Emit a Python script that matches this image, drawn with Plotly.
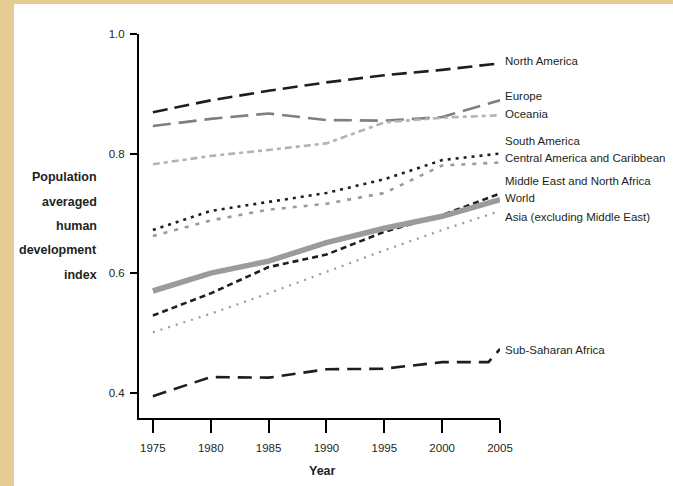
import plotly.graph_objects as go

years = [1975, 1980, 1985, 1990, 1995, 2000, 2005]
north_america = [0.869, 0.889, 0.905, 0.919, 0.931, 0.940, 0.951]
europe = [0.846, 0.858, 0.867, 0.856, 0.855, 0.861, 0.889]
oceania = [0.782, 0.796, 0.806, 0.817, 0.852, 0.860, 0.864]
south_america = [0.672, 0.704, 0.719, 0.734, 0.757, 0.789, 0.800]
central_america = [0.662, 0.688, 0.706, 0.716, 0.734, 0.780, 0.785]
mena = [0.529, 0.566, 0.610, 0.631, 0.669, 0.697, 0.733]
world = [0.570, 0.600, 0.620, 0.651, 0.675, 0.695, 0.723]
asia = [0.501, 0.532, 0.566, 0.602, 0.638, 0.672, 0.704]
ssa_years = [1975, 1980, 1985, 1990, 1995, 2000, 2004, 2005]
ssa = [0.394, 0.426, 0.425, 0.439, 0.440, 0.451, 0.451, 0.473]

x_ticks = [1975, 1980, 1985, 1990, 1995, 2000, 2005]
y_ticks = [0.4, 0.6, 0.8, 1.0]
y_tick_text = ["0.4", "0.6", "0.8", "1.0"]

FONT = "Liberation Sans, Arial, sans-serif"
TXT = "#231f20"

series = [
    ("North America", years, north_america, "#1e1e1e", 2.6, "15px,7px", 0.955),
    ("Europe", years, europe, "#7f7f7f", 2.6, "18px,8px", 0.896),
    ("Oceania", years, oceania, "#b3b3b3", 2.6, "7px,4px,4px,4px", 0.866),
    ("South America", years, south_america, "#1e1e1e", 2.6, "3px,5px", 0.821),
    ("Central America and Caribbean", years, central_america, "#9a9a9a", 2.6, "4px,7px", 0.793),
    ("Middle East and North Africa", years, mena, "#1e1e1e", 2.6, "6px,4px", 0.754),
    ("World", years, world, "#9b9b9b", 5.5, "solid", 0.725),
    ("Asia (excluding Middle East)", years, asia, "#9a9a9a", 2.2, "2px,6px", 0.694),
    ("Sub-Saharan Africa", ssa_years, ssa, "#1e1e1e", 2.6, "14px,8px", 0.471),
]

fig = go.Figure()
for name, xs, ys, color, width, dash, _ in series:
    fig.add_trace(go.Scatter(
        x=xs, y=ys, mode="lines", name=name,
        line=dict(color=color, width=width, dash=dash),
        hoverinfo="skip", showlegend=False,
    ))

annotations = []
for name, xs, ys, color, width, dash, ly in series:
    annotations.append(dict(
        x=2005, y=ly, xref="x", yref="y", text=name, showarrow=False,
        xanchor="left", yanchor="middle", xshift=3,
        font=dict(family=FONT, size=11.5, color=TXT),
    ))

# y-axis title, one line per annotation (right aligned)
title_lines = ["Population", "averaged", "human", "development", "index"]
title_y_px = [177, 201.5, 226, 250.5, 275]
L, T, W, H = 139, 34, 361, 384
for line, py in zip(title_lines, title_y_px):
    annotations.append(dict(
        x=(99 - L) / W, y=(T + H - py) / H, xref="paper", yref="paper",
        text=line, showarrow=False, xanchor="right", yanchor="middle",
        xshift=0, font=dict(family=FONT, size=12.5, color=TXT, weight="bold"),
    ))
annotations.append(dict(
    x=(322 - L) / W, y=(T + H - 471) / H, xref="paper", yref="paper",
    text="Year", showarrow=False, xanchor="center", yanchor="middle",
    font=dict(family=FONT, size=12.5, color=TXT, weight="bold"),
))

# white page area on textured tan background
shapes = [dict(
    type="rect", xref="paper", yref="paper", layer="below",
    x0=(14 - L) / W, x1=(680 - L) / W, y0=(T + H - 490) / H, y1=(T + H - 4) / H,
    fillcolor="white", line=dict(width=0),
)]

fig.update_layout(
    width=673, height=486,
    margin=dict(l=L, r=673 - L - W, t=T, b=486 - T - H),
    paper_bgcolor="#e6cb92", plot_bgcolor="white",
    annotations=annotations, shapes=shapes,
    font=dict(family=FONT, size=11, color=TXT),
    xaxis=dict(
        range=[1973.8, 2005], tickvals=x_ticks, showgrid=False, zeroline=False,
        showline=True, linecolor="black", linewidth=2,
        ticks="outside", ticklen=13, tickwidth=2, tickcolor="black",
        tickfont=dict(family=FONT, size=11.5, color=TXT),
        ticklabelstandoff=5,
    ),
    yaxis=dict(
        range=[0.3575, 1.0], tickvals=y_ticks, ticktext=y_tick_text,
        showgrid=False, zeroline=False,
        showline=True, linecolor="black", linewidth=2,
        ticks="outside", ticklen=7, tickwidth=2, tickcolor="black",
        tickfont=dict(family=FONT, size=11.5, color=TXT),
        ticklabelstandoff=3,
    ),
)

fig.write_html(
    "out.html",
    config={"displayModeBar": False},
    post_script="document.body.style.margin='0px';document.body.style.padding='0px';",
)
